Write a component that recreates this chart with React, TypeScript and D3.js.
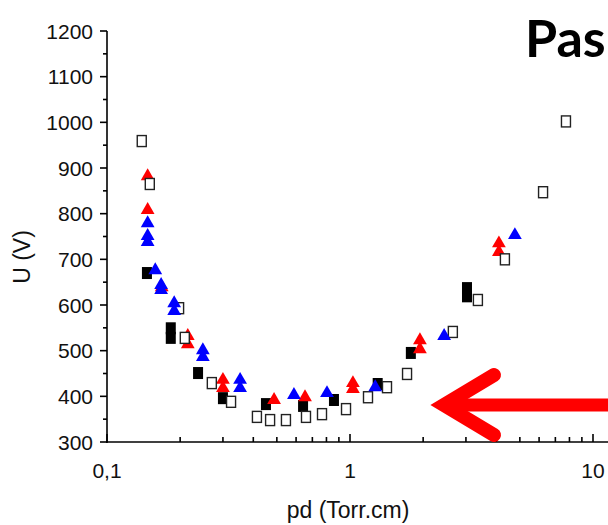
import React from 'react';
import * as d3 from 'd3';

// pd (Torr.cm) / U (V)
const openX = [0.139, 0.150, 0.198, 0.209, 0.270, 0.324, 0.414, 0.469, 0.545, 0.659, 0.767, 0.963, 1.186, 1.420, 1.717, 2.65, 3.36, 4.34, 6.23, 7.74];
const openY = [959, 865, 593, 528, 429, 388, 355, 348, 348, 355, 361, 372, 398, 420, 449, 541, 611, 700, 847, 1002];

const blackX = [0.146, 0.183, 0.183, 0.237, 0.300, 0.451, 0.641, 0.859, 1.30, 1.78, 3.03, 3.03];
const blackY = [670, 549, 528, 451, 396, 383, 379, 392, 427, 495, 637, 619];

const redX = [0.147, 0.147, 0.168, 0.215, 0.215, 0.300, 0.300, 0.487, 0.653, 1.028, 1.028, 1.94, 1.94, 4.10, 4.10];
const redY = [882, 808, 639, 532, 514, 436, 418, 392, 398, 429, 416, 523, 503, 735, 716];

const blueX = [0.147, 0.147, 0.147, 0.158, 0.167, 0.167, 0.189, 0.189, 0.248, 0.248, 0.353, 0.353, 0.588, 0.804, 1.27, 2.44, 4.77];
const blueY = [779, 751, 738, 676, 644, 633, 604, 587, 501, 486, 436, 418, 403, 407, 420, 532, 753];

const yTicks = [300, 400, 500, 600, 700, 800, 900, 1000, 1100, 1200];
const xTickLabels = ['0,1', '1', '10'];

const width = 608;
const height = 525;

const x = d3.scaleLog().domain([0.1, 10]).range([107, 593]);
const y = d3.scaleLinear().domain([300, 1200]).range([442, 31]);

const tri = d3.symbol().type(d3.symbolTriangle).size(82)() as string;

const font = 'Arial, "Liberation Sans", sans-serif';

export default function App() {
  const majorX = [0.1, 1, 10];
  const minorX: number[] = [];
  [0.1, 1].forEach((dec) => {
    for (let k = 2; k <= 9; k++) minorX.push(dec * k);
  });
  const minorY = d3.range(350, 1200, 100);

  return (
    <svg width={width} height={height} style={{ position: 'absolute', left: 0, top: 0, background: '#fff' }}>
      {/* axes */}
      <g stroke="#000" strokeWidth={1.6} fill="none">
        <line x1={x(0.1)} x2={x(0.1)} y1={y(1200)} y2={y(300) + 1} />
        <line x1={x(0.1) - 1} x2={width} y1={y(300)} y2={y(300)} />
        {yTicks.map((t) => (
          <line key={t} x1={x(0.1) - 7} x2={x(0.1)} y1={y(t)} y2={y(t)} />
        ))}
        {minorY.map((t) => (
          <line key={t} x1={x(0.1) - 4} x2={x(0.1)} y1={y(t)} y2={y(t)} />
        ))}
        {majorX.map((t) => (
          <line key={t} x1={x(t)} x2={x(t)} y1={y(300)} y2={y(300) - 8} />
        ))}
        {minorX.map((t) => (
          <line key={t} x1={x(t)} x2={x(t)} y1={y(300)} y2={y(300) - 5} />
        ))}
      </g>
      <g fontFamily={font} fill="#111">
        <g fontSize={21}>
          {yTicks.map((t) => (
            <text key={t} x={x(0.1) - 14} y={y(t)} dy="0.36em" textAnchor="end">{t}</text>
          ))}
          {majorX.map((t, i) => (
            <text key={t} x={Math.min(x(t), 594)} y={478} textAnchor="middle">{xTickLabels[i]}</text>
          ))}
        </g>
        <g fontSize={23}>
          <text x={348} y={518} textAnchor="middle">pd (Torr.cm)</text>
          <text transform={`translate(30,257) rotate(-90)`} textAnchor="middle">U (V)</text>
        </g>
      </g>

      {/* markers */}
      <g fill="#000">
        {blackX.map((v, i) => (
          <rect key={i} x={x(v) - 5} y={y(blackY[i]) - 6} width={10} height={12} />
        ))}
      </g>
      <g fill="#ff0000">
        {redX.map((v, i) => (
          <path key={i} d={tri} transform={`translate(${x(v)},${y(redY[i])})`} />
        ))}
      </g>
      <g fill="#fff" stroke="#222" strokeWidth={1.4}>
        {openX.map((v, i) => (
          <rect key={i} x={x(v) - 4.5} y={y(openY[i]) - 5.5} width={9} height={11} />
        ))}
      </g>
      <g fill="#0000ff">
        {blueX.map((v, i) => (
          <path key={i} d={tri} transform={`translate(${x(v)},${y(blueY[i])})`} />
        ))}
      </g>

      {/* arrow */}
      <g stroke="#ff0000" fill="none" strokeLinecap="round">
        <line x1={450} x2={width + 10} y1={405} y2={405} strokeWidth={13} />
        <polyline points="494,375 444,405 494,435" strokeWidth={14} strokeLinejoin="miter" strokeMiterlimit={10} />
      </g>

      <text x={525} y={57} fontFamily='Lato, "Open Sans", sans-serif' fontWeight="bold" fontSize={52} fill="#000">Pas</text>
    </svg>
  );
}
